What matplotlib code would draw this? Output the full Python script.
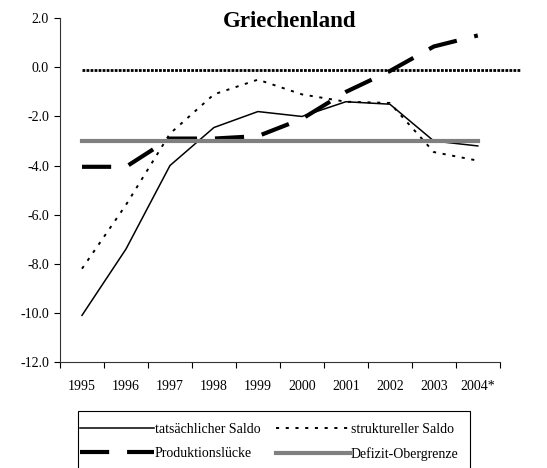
import matplotlib
matplotlib.use('Agg')
import matplotlib.pyplot as plt
from matplotlib.patches import Rectangle
import numpy as np

plt.rcParams['font.family'] = ['Liberation Serif', 'DejaVu Serif']

years = ['1995', '1996', '1997', '1998', '1999', '2000', '2001', '2002', '2003', '2004*']
tatsaechlich = [-10.1, -7.4, -4.0, -2.45, -1.8, -2.0, -1.4, -1.5, -3.0, -3.2]
strukturell = [-8.2, -5.6, -2.7, -1.1, -0.5, -1.1, -1.4, -1.45, -3.45, -3.8]
produktionsluecke = [-4.05, -4.05, -2.9, -2.9, -2.8, -2.1, -1.0, -0.15, 0.85, 1.3]
obergrenze = [-3.0] * 10
nulllinie = [-0.1, -0.1]

x = np.arange(len(years))

fig = plt.figure(figsize=(5.47, 4.68), dpi=100)
ax = fig.add_axes([0.1097, 0.2265, 0.804, 0.7345])

# zero line (not in legend), runs past the last category
ax.plot([0, 9.95], nulllinie, color='black', lw=2.0, linestyle=(0, (1.0, 0.45)),
        dash_capstyle='butt', clip_on=False)

l1, = ax.plot(x, tatsaechlich, color='black', lw=1.1)
l2, = ax.plot(x, strukturell, color='black', lw=1.4, linestyle=(0, (1.6, 3.4)),
              dash_capstyle='butt')
l3, = ax.plot(x, produktionsluecke, color='black', lw=3.0, linestyle=(0, (7, 4.3)),
              dash_capstyle='butt')
l4, = ax.plot(x, obergrenze, color='#808080', lw=3.0)

ax.set_xlim(-0.5, 9.5)
ax.set_ylim(-12, 2)
ax.set_yticks(np.arange(-12, 2.1, 2))
ax.set_yticklabels(['%.1f' % v for v in np.arange(-12, 2.1, 2)], fontsize=10)
ax.set_xticks(x)
ax.set_xticklabels(years, fontsize=10)
ax.set_xticks(np.arange(-0.5, 10, 1), minor=True)
ax.tick_params(axis='x', which='major', length=0, pad=13)
ax.tick_params(axis='x', which='minor', length=4, direction='out', width=0.8)
ax.tick_params(axis='y', length=4, direction='out', width=0.8, pad=4)

for s in ['top', 'right']:
    ax.spines[s].set_visible(False)
for s in ['left', 'bottom']:
    ax.spines[s].set_linewidth(0.8)
    ax.spines[s].set_color('#333333')

fig.text(0.53, 0.955, 'Griechenland', ha='center', va='center',
         fontsize=16.5, fontweight='bold')

# legend filled column-wise, so order handles to read row by row
leg = fig.legend([l1, l3, l2, l4],
                 ['tatsächlicher Saldo', 'Produktionslücke',
                  'struktureller Saldo', 'Defizit-Obergrenze'],
                 loc='upper left', bbox_to_anchor=(80 / 547, 1 - 423 / 468),
                 ncol=2, fontsize=10, handlelength=5.3, handletextpad=0.1,
                 columnspacing=1.1, frameon=False,
                 borderpad=0, labelspacing=0.78, borderaxespad=0)

# legend frame, cut off by the bottom edge like in the original
fig.add_artist(Rectangle((78 / 547, -0.02), (470 - 78) / 547, 0.02 + 1 - 411 / 468,
                         transform=fig.transFigure, fill=False,
                         edgecolor='black', lw=0.8))

fig.savefig('out.png', dpi=100)
